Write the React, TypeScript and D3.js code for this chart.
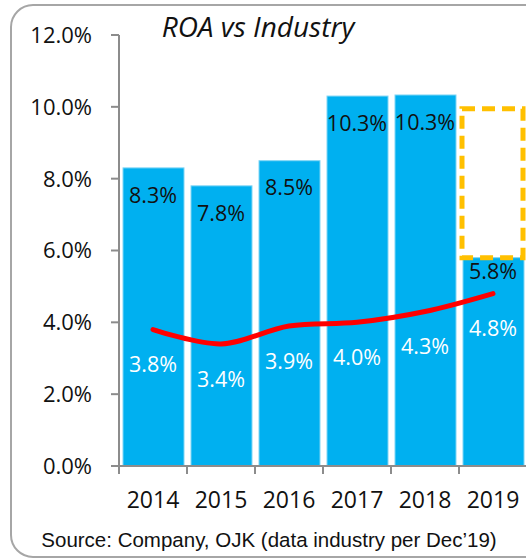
import * as d3 from 'd3';
import { useEffect, useRef } from 'react';

const years = ['2014', '2015', '2016', '2017', '2018', '2019'];
const roaValues = [8.3, 7.8, 8.5, 10.3, 10.33, 5.8];
const roaLabels = ['8.3%', '7.8%', '8.5%', '10.3%', '10.3%', '5.8%'];
const industryValues = [3.8, 3.4, 3.9, 4.0, 4.3, 4.8];
const industryLabels = ['3.8%', '3.4%', '3.9%', '4.0%', '4.3%', '4.8%'];
const yTicks = [0, 2, 4, 6, 8, 10, 12];
// dashed target box over the last year
const boxRange = [5.8, 9.95];

function App() {
  const ref = useRef(null);

  useEffect(() => {
    const width = 526;
    const height = 560;
    const svg = d3.select(ref.current);
    svg.selectAll('*').remove();
    svg.attr('width', width).attr('height', height);

    const font = '"Open Sans", sans-serif';

    // frame
    svg.append('rect')
      .attr('x', 11).attr('y', 5)
      .attr('width', 540).attr('height', 552)
      .attr('rx', 22)
      .attr('fill', 'white')
      .attr('stroke', '#A6A6A6')
      .attr('stroke-width', 2);

    const left = 119;
    const x = d3.scaleBand().domain(years).range([left, left + 408]);
    const y = d3.scaleLinear().domain([0, 12]).range([466, 35]);

    // bars
    svg.selectAll('rect.bar')
      .data(years)
      .enter()
      .append('rect')
      .attr('class', 'bar')
      .attr('x', d => x(d) + 4)
      .attr('y', (d, i) => y(roaValues[i]))
      .attr('width', x.bandwidth() - 7)
      .attr('height', (d, i) => y(0) - y(roaValues[i]))
      .attr('fill', '#00B0F0')
      .attr('stroke', '#7FD5F5')
      .attr('stroke-width', 1);

    // axes
    const axisColor = '#8C8C8C';
    svg.append('line')
      .attr('x1', left).attr('x2', left)
      .attr('y1', y(12)).attr('y2', y(0))
      .attr('stroke', axisColor).attr('stroke-width', 2);
    svg.selectAll('line.ytick')
      .data(yTicks)
      .enter()
      .append('line')
      .attr('x1', left - 8).attr('x2', left)
      .attr('y1', d => y(d)).attr('y2', d => y(d))
      .attr('stroke', axisColor).attr('stroke-width', 2);
    svg.selectAll('text.ylab')
      .data(yTicks)
      .enter()
      .append('text')
      .attr('x', 92)
      .attr('y', d => y(d))
      .attr('dy', '0.36em')
      .attr('text-anchor', 'end')
      .attr('font-family', font)
      .attr('font-size', 22)
      .attr('fill', '#111')
      .text(d => d.toFixed(1) + '%');

    svg.append('line')
      .attr('x1', left - 8).attr('x2', width)
      .attr('y1', y(0)).attr('y2', y(0))
      .attr('stroke', axisColor).attr('stroke-width', 2);
    svg.selectAll('line.xtick')
      .data(years.concat(['end']))
      .enter()
      .append('line')
      .attr('x1', (d, i) => left + i * x.bandwidth())
      .attr('x2', (d, i) => left + i * x.bandwidth())
      .attr('y1', y(0)).attr('y2', y(0) + 8)
      .attr('stroke', axisColor).attr('stroke-width', 2);
    svg.selectAll('text.xlab')
      .data(years)
      .enter()
      .append('text')
      .attr('x', d => x(d) + x.bandwidth() / 2)
      .attr('y', 500)
      .attr('dy', '0.36em')
      .attr('text-anchor', 'middle')
      .attr('font-family', font)
      .attr('font-size', 23)
      .attr('fill', '#111')
      .text(d => d);

    // bar labels
    svg.selectAll('text.barlab')
      .data(years)
      .enter()
      .append('text')
      .attr('x', d => x(d) + x.bandwidth() / 2)
      .attr('y', (d, i) => y(roaValues[i]) + (i === years.length - 1 ? 14 : 27))
      .attr('dy', '0.36em')
      .attr('text-anchor', 'middle')
      .attr('font-family', font)
      .attr('font-size', 21.5)
      .attr('fill', '#111')
      .text((d, i) => roaLabels[i]);

    // industry line
    const line = d3.line()
      .x((d, i) => x(years[i]) + x.bandwidth() / 2)
      .y(d => y(d))
      .curve(d3.curveCatmullRom.alpha(0.5));
    svg.append('path')
      .datum(industryValues)
      .attr('d', line)
      .attr('fill', 'none')
      .attr('stroke', '#FF0000')
      .attr('stroke-width', 5)
      .attr('stroke-linecap', 'round');

    svg.selectAll('text.indlab')
      .data(years)
      .enter()
      .append('text')
      .attr('x', d => x(d) + x.bandwidth() / 2)
      .attr('y', (d, i) => y(industryValues[i]) + 35)
      .attr('dy', '0.36em')
      .attr('text-anchor', 'middle')
      .attr('font-family', font)
      .attr('font-size', 21.5)
      .attr('fill', 'white')
      .text((d, i) => industryLabels[i]);

    // dashed box
    const last = years[years.length - 1];
    svg.append('rect')
      .attr('x', x(last) + 3)
      .attr('y', y(boxRange[1]))
      .attr('width', 61)
      .attr('height', y(boxRange[0]) - y(boxRange[1]))
      .attr('fill', 'none')
      .attr('stroke', '#FFC000')
      .attr('stroke-width', 5)
      .attr('stroke-dasharray', '13 7');

    // title
    svg.append('text')
      .attr('x', 258).attr('y', 27)
      .attr('dy', '0.36em')
      .attr('text-anchor', 'middle')
      .attr('font-family', font)
      .attr('font-style', 'italic')
      .attr('font-size', 28)
      .attr('fill', '#111')
      .text('ROA vs Industry');

    // source
    svg.append('text')
      .attr('x', 269).attr('y', 540)
      .attr('dy', '0.36em')
      .attr('text-anchor', 'middle')
      .attr('font-family', '"Liberation Sans", Arial, sans-serif')
      .attr('font-size', 20.5)
      .attr('fill', '#111')
      .text('Source: Company, OJK (data industry per Dec\u201919)');
  }, []);

  return (
    <div>
      <style>{'body{margin:0;}'}</style>
      <svg ref={ref} style={{ display: 'block' }}></svg>
    </div>
  );
}

export default App;
